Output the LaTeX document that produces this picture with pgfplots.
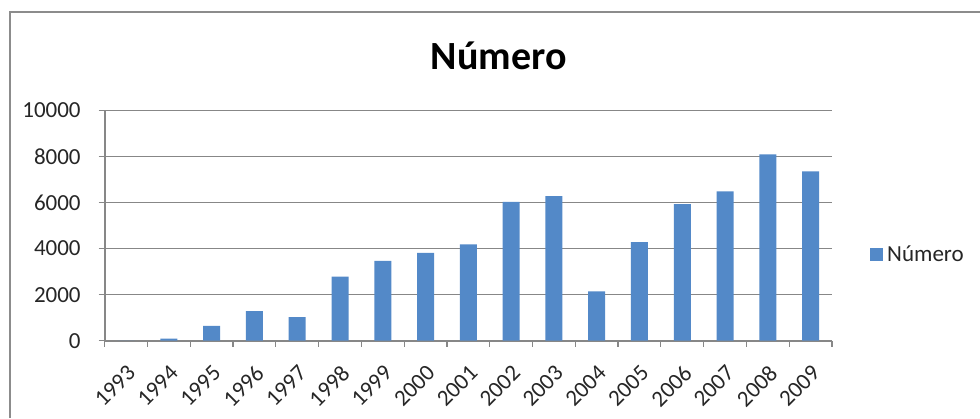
\documentclass[border=0pt]{standalone}
\usepackage{fontspec}
\setmainfont{Carlito}
\usepackage{pgfplots}
\pgfplotsset{compat=1.18}
\definecolor{barblue}{RGB}{83,137,200}
\definecolor{gridgray}{RGB}{135,135,135}
\definecolor{framegray}{RGB}{140,140,140}
\begin{document}
\begin{tikzpicture}
% 1 px of the reference = 0.5pt
\useasboundingbox (0,0) rectangle (490pt,209pt);
\draw[framegray, line width=1pt] (4.75pt,0) -- (4.75pt,202.75pt) -- (490pt,202.75pt);
\node[font=\bfseries\fontsize{20}{24}\selectfont, anchor=base, inner sep=0pt] at (249.35pt,174.35pt) {Número};
\begin{axis}[
  at={(52.35pt,38.65pt)}, anchor=south west,
  scale only axis, width=363.65pt, height=115.2pt,
  ybar, bar width=8.5pt,
  xmin=-0.5, xmax=16.5, ymin=0, ymax=10000,
  xtick={0,...,16},
  xticklabels={1993,1994,1995,1996,1997,1998,1999,2000,2001,2002,2003,2004,2005,2006,2007,2008,2009},
  minor xtick={-0.5,0.5,...,16.5},
  major x tick style={draw=none},
  ytick={0,2000,...,10000},
  ymajorgrids, grid style={gridgray, line width=0.6pt},
  axis x line*=bottom, axis y line*=left,
  axis line style={-, gridgray, line width=0.8pt},
  tick align=outside, major tick length=3pt, minor tick length=3pt,
  tick style={gridgray, line width=0.6pt},
  scaled y ticks=false,
  /pgf/number format/1000 sep={},
  /pgf/number format/assume math mode=true,
  tick label style={font=\fontsize{11.5}{13.5}\selectfont, text=black!85},
  y tick label style={xshift=-5.5pt},
  xticklabel shift={7pt},
  x tick label style={rotate=45, anchor=north east, inner sep=1pt},
  legend style={at={(1.052,0.372)}, anchor=west, draw=none, fill=none,
    inner sep=0pt, font=\fontsize{11.5}{13.5}\selectfont, text=black!85,
    legend cell align=left},
  legend image code/.code={\draw[#1, draw=none] (0pt,-3.25pt) rectangle (6.5pt,3.25pt);},
]
\addplot[fill=barblue, draw=none] coordinates {
  (0,0) (1,90) (2,640) (3,1280) (4,1020) (5,2780) (6,3460) (7,3810) (8,4180)
  (9,6030) (10,6280) (11,2140) (12,4280) (13,5930) (14,6480) (15,8090) (16,7350)
};
\addlegendentry{Número}
\end{axis}
\end{tikzpicture}
\end{document}
